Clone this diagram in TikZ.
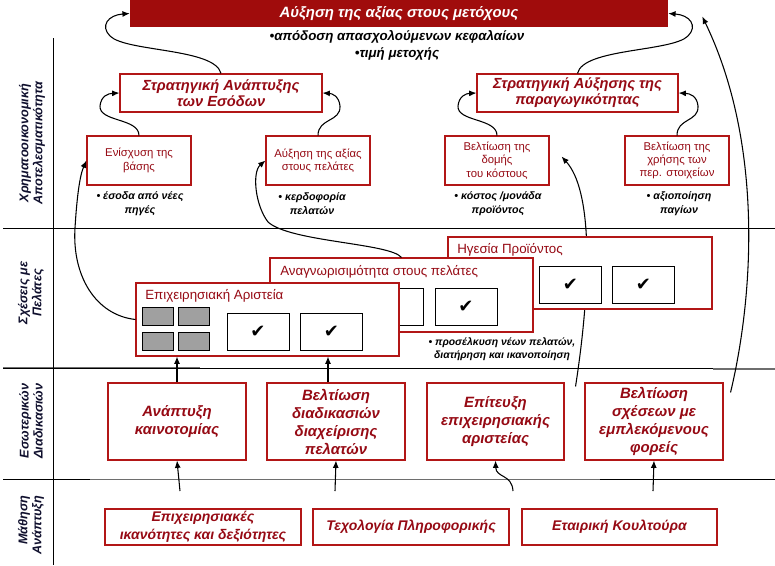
\documentclass[tikz,border=0pt]{standalone}
\usepackage{fontspec}
\setmainfont{Liberation Sans}
\newfontfamily\symfont{DejaVu Sans}
\usetikzlibrary{arrows.meta,calc}
\definecolor{bnr}{RGB}{160,12,12}
\definecolor{brd}{RGB}{178,22,22}
\definecolor{txr}{RGB}{150,10,20}
\definecolor{lbl}{RGB}{15,15,45}
\definecolor{gsq}{RGB}{160,160,160}
\definecolor{gln}{RGB}{110,110,110}
\begin{document}
\begin{tikzpicture}[x=0.75pt,y=-0.75pt,
  wh/.style 2 args={minimum width=#1*0.75pt, minimum height=#2*0.75pt},
  rbox/.style={draw=brd, line width=0.8pt, fill=white, inner sep=0pt, align=center, text=txr},
  strat/.style={rbox, font=\fontsize{11}{12}\selectfont\bfseries\itshape},
  small/.style={rbox, font=\fontsize{8.5}{10}\selectfont},
  intbox/.style={rbox, font=\fontsize{11.2}{13.5}\selectfont\bfseries\itshape},
  lrnbox/.style={rbox, font=\fontsize{10.5}{13.5}\selectfont\bfseries\itshape},
  custbox/.style={draw=brd, line width=0.8pt, fill=white, inner sep=0pt},
  ctitle/.style={anchor=west, inner sep=0pt, text=txr, font=\fontsize{10}{12}\selectfont},
  cbox/.style={draw=black, line width=0.7pt, fill=white, inner sep=0pt, wh={62}{37}, font=\symfont\fontsize{13.5}{13.5}\selectfont},
  gbox/.style={draw=black, line width=0.6pt, fill=gsq, inner sep=0pt, wh={31}{18}},
  bull/.style={align=center, inner sep=0pt, font=\fontsize{8}{10.5}\selectfont\bfseries\itshape},
  rowlbl/.style={rotate=90, inner sep=0pt, text=lbl, font=\fontsize{9.5}{10.5}\selectfont\bfseries\itshape},
  gridl/.style={draw=black, line width=0.75pt},
  arr/.style={-{Latex[length=5.5pt,width=4.5pt]}, line width=0.8pt, draw=black}]
\useasboundingbox (0,0) rectangle (775,565);

% grid
\draw[gridl] (3,228) -- (775,228);
\draw[gridl] (3,368) -- (775,368);
\draw[draw=gln, line width=1.1pt] (3,367.5) -- (200,367.5);
\draw[draw=gln, line width=1.1pt] (713,369) -- (775,369);
\draw[gridl] (3,479) -- (775,479);
\draw[draw=gln, line width=1.1pt] (90,479.5) -- (600,479.5);
\draw[gridl] (53,38) -- (53,565);

% row labels
\node[rowlbl, align=center] (r1) at (32,143) {Χρηματοοικονομική\\Αποτελεσματικότητα};
\node[rowlbl, align=center] (r2) at (31,293) {Σχέσεις με\\Πελάτες};
\node[rowlbl, align=center] (r3) at (31,421) {Εσωτερικών\\Διαδικασιών};
\node[rowlbl, align=right] (r4) at (31,525) {Μάθηση\\Ανάπτυξη};

% banner
\node[fill=bnr, inner sep=0pt, wh={538}{27}, text=white, font=\fontsize{11.2}{12}\selectfont\bfseries\itshape] (banner) at (399,13.5) {Αύξηση της αξίας στους μετόχους};
\node[align=center, inner sep=0pt, font=\fontsize{10}{12.75}\selectfont\bfseries\itshape] (tb) at (397,45.5) {•απόδοση απασχολούμενων κεφαλαίων\\•τιμή μετοχής};

% financial row
\node[strat, wh={202}{38}] (S1) at (221,93) {Στρατηγική Ανάπτυξης\\των Εσόδων};
\node[strat, wh={201}{38}] (S2) at (577.5,93) {Στρατηγική Αύξησης της\\παραγωγικότητας};
\node[small, wh={104}{49}] (E1) at (139,160.5) {Ενίσχυση της\\βάσης};
\node[small, wh={104}{49}] (A1) at (318,160.5) {Αύξηση της αξίας\\στους πελάτες};
\node[small, wh={104}{49}] (B1) at (497,160.5) {Βελτίωση της\\δομής\\του κόστους};
\node[small, wh={104}{49}] (B2) at (677,160.5) {Βελτίωση της\\χρήσης των\\περ. στοιχείων};
\node[bull] (b1) at (140,204) {• έσοδα από νέες\\πηγές};
\node[bull] (b2) at (312,204) {• κερδοφορία\\πελατών};
\node[bull] (b3) at (498,204) {• κόστος /μονάδα\\προϊόντος};
\node[bull] (b4) at (679,204) {• αξιοποίηση\\παγίων};

\draw[arr] (S1.north) .. controls (215,48) and (126,52) .. (110,36) .. controls (100,26) and (108,15) .. (banner.west);
\draw[arr] (S2.north) .. controls (583,48) and (672,52) .. (688,36) .. controls (698,26) and (690,15) .. (banner.east);
\draw[arr] (E1.north) .. controls (139,118) and (99,122) .. (100,106) .. controls (101,96) and (108,93.5) .. (S1.west);
\draw[arr] (A1.north) .. controls (318,118) and (341,122) .. (340,106) .. controls (339,96) and (332,93.5) .. (S1.east);
\draw[arr] (B1.north) .. controls (497,118) and (457,122) .. (458,106) .. controls (459,96) and (466,93.5) .. (S2.west);
\draw[arr] (B2.north) .. controls (677,118) and (699,122) .. (698,106) .. controls (697,96) and (690,93.5) .. (S2.east);

% internal processes
\node[intbox, wh={138}{77}] (I1) at (177,421.5) {Ανάπτυξη\\καινοτομίας};
\node[intbox, wh={138}{77}] (I2) at (336,421.5) {Βελτίωση\\διαδικασιών\\διαχείρισης\\πελατών};
\node[intbox, wh={137}{77}] (E3) at (495.5,421.5) {Επίτευξη\\επιχειρησιακής\\αριστείας};
\node[intbox, wh={138}{77}] (V4) at (654,421.5) {Βελτίωση\\σχέσεων με\\εμπλεκόμενους\\φορείς};

% learning
\node[lrnbox, wh={196}{36}] (L1) at (203,527) {Επιχειρησιακές\\ικανότητες και δεξιότητες};
\node[lrnbox, wh={196}{36}] (L2) at (411,527) {Τεχολογία Πληροφορικής};
\node[lrnbox, wh={195}{36}] (L3) at (619.5,527) {Εταιρική Κουλτούρα};

% long arrows (behind customer boxes)
\coordinate (s8) at ($(E3.north east)+(11,4)$);
\coordinate (e8) at ($(B1.east)+(12,-4)$);
\draw[arr] (s8) .. controls (592,280) and (592,190) .. (e8);
\coordinate (s7) at ($(V4.north east)+(7,10)$);
\coordinate (e7) at ($(banner.east)+(34,3)$);
\draw[arr] (s7) .. controls (755,290) and (762,140) .. (e7);

% customer row
\node[custbox, wh={264}{72}] (HG) at (580,273) {};
\node[ctitle] (HGt) at (457,250) {Ηγεσία Προϊόντος};
\node[cbox] (HGc1) at (570.5,285) {✔};
\node[cbox] (HGc2) at (643.5,285) {✔};

\node[custbox, wh={263}{74}] (AN) at (401.5,295) {};
\node[ctitle] (ANt) at (280,272) {Αναγνωρισιμότητα στους πελάτες};
\node[cbox] (ANc1) at (392,307) {};
\node[cbox] (ANc2) at (466,307) {✔};

\node[custbox, wh={263}{73}] (EA) at (267.5,319.5) {};
\node[ctitle] (EAt) at (145,296) {Επιχειρησιακή Αριστεία};
\node[gbox] (g1) at (157.5,316) {};
\node[gbox] (g2) at (194,316) {};
\node[gbox] (g3) at (157.5,341) {};
\node[gbox] (g4) at (194,341) {};
\node[cbox] (EAc1) at (258,332) {✔};
\node[cbox] (EAc2) at (331.5,332) {✔};

\node[bull, font=\fontsize{7.8}{9.5}\selectfont\bfseries\itshape] (b5) at (502,349.5) {• προσέλκυση νέων πελατών,\\διατήρηση και ικανοποίηση};

% customer -> financial
\draw[arr] (EA.west) .. controls (95,315) and (72,275) .. (75,228) .. controls (77,195) and (80,175) .. (E1.west);
\draw[arr] (AN.north) .. controls (390,243) and (290,242) .. (268,222) .. controls (255,205) and (252,172) .. (A1.west);

% internal -> customer
\draw[arr] (I1.north) -- (I1.north |- EA.south);
\coordinate (p2) at ($(I2.north)+(-8,0)$);
\draw[arr] (p2) -- (p2 |- EA.south);

% learning -> internal
\coordinate (q1) at (180,491);
\coordinate (q2) at (335,491);
\coordinate (q3) at (513,491);
\coordinate (q4) at (653,491);
\draw[arr] (q1) -- (I1.south);
\draw[arr] (q2) -- (I2.south);
\draw[arr] (q3) .. controls (512,474) and (496,478) .. (E3.south);
\draw[arr] (q4) -- (V4.south);
\end{tikzpicture}
\end{document}
